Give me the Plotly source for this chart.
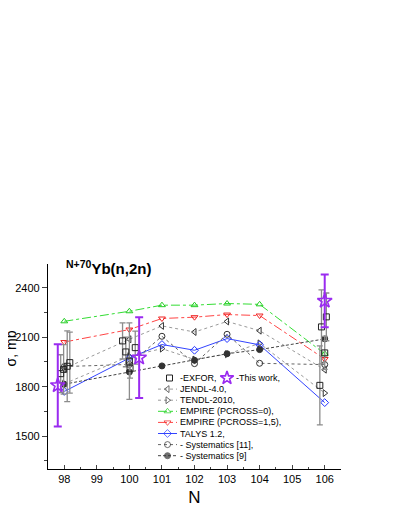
import plotly.graph_objects as go

# calculated / evaluated curves, N = 98..106 (even + 101, 103)
n_calc = [98, 100, 101, 102, 103, 104, 106]
jendl = [1910, 2088, 2169, 2132, 2196, 2140, 1903]
tendl = [1818, 1985, 2031, 1965, 1997, 2063, 1761]
empire0 = [2197, 2258, 2295, 2295, 2305, 2300, 2000]
empire15 = [2071, 2147, 2214, 2222, 2238, 2232, 1968]
talys = [1771, 1974, 2056, 2021, 2092, 2054, 1703]
sys11 = [1922, 1935, 2106, 1940, 2118, 1942, 1934]
sys9 = [1815, 1889, 1926, 1960, 2000, 2025, 2090]

# EXFOR points (slightly shifted in N like the original)
exfor_n = [97.89, 97.98, 98.09, 98.17, 99.79, 99.89, 100.0, 100.02, 100.18,
           105.85, 105.9, 106.0, 106.05]
exfor_sig = [1879, 1905, 1924, 1946, 2078, 2011, 1955, 1912, 2037,
             1808, 2163, 2005, 2224]
exfor_err = [115, 150, 215, 185, 110, 90, 232, 60, 100,
             240, 225, 100, 145]

# this work
tw_n = [97.8, 100.3, 106.0]
tw_sig = [1808, 1976, 2321]
tw_err = [250, 245, 160]

FONT = "Arial, Liberation Sans, sans-serif"
GRAY = "#8c8c8c"
PURPLE = "#9a2bf0"

curves = [
    ("JENDL-4.0,", jendl, "triangle-left-open", "#9a9a9a", "dot", "#333333"),
    ("TENDL-2010,", tendl, "triangle-right-open", "#9a9a9a", "dot", "#333333"),
    ("EMPIRE (PCROSS=0),", empire0, "triangle-up-open", "#33dd33", "dashdot", "#22cc22"),
    ("EMPIRE (PCROSS=1,5),", empire15, "triangle-down-open", "#ff4444", "dashdot", "#ee2222"),
    ("TALYS 1.2,", talys, "diamond-open", "#3344ff", "solid", "#2233ff"),
    ("- Systematics [11],", sys11, "circle-open", "#666666", "dot", "#333333"),
    ("- Systematics [9]", sys9, "circle", "#444444", "3px,2px", "#333333"),
]

fig = go.Figure()

for name, vals, sym, lc, dash, mc in curves:
    fig.add_trace(go.Scatter(x=n_calc, y=vals, mode="lines+markers",
                             line=dict(color=lc, width=1, dash=dash),
                             marker=dict(symbol=sym, size=6, color=mc,
                                         line=dict(color=mc, width=1)),
                             showlegend=False))

fig.add_trace(go.Scatter(x=exfor_n, y=exfor_sig, mode="markers",
                         marker=dict(symbol="square-open", size=6, color="#222222",
                                     line=dict(width=1)),
                         error_y=dict(type="data", array=exfor_err, color=GRAY,
                                      thickness=1.3, width=3),
                         showlegend=False))

fig.add_trace(go.Scatter(x=tw_n, y=tw_sig, mode="markers",
                         marker=dict(symbol="star-open", size=11, color=PURPLE,
                                     line=dict(width=1.6)),
                         error_y=dict(type="data", array=tw_err, color=PURPLE,
                                      thickness=2, width=4),
                         showlegend=False))

# hand-made legend on an overlay axis in pixel units of the plot area
leg_y0, leg_dy = 114, 11.1
sx0, sx1, tx = 110, 129, 130
LEGFONT = dict(size=9, family=FONT)
fig.add_trace(go.Scatter(x=[(sx0 + sx1) / 2 + 2], y=[leg_y0], mode="markers",
                         marker=dict(symbol="square-open", size=6, color="#222222"),
                         xaxis="x2", yaxis="y2", showlegend=False))
fig.add_annotation(x=tx, y=leg_y0, xref="x2", yref="y2", text="-EXFOR,",
                   showarrow=False, xanchor="left", font=LEGFONT)
fig.add_trace(go.Scatter(x=[179], y=[leg_y0], mode="markers",
                         marker=dict(symbol="star-open", size=10, color=PURPLE,
                                     line=dict(width=1.6)),
                         xaxis="x2", yaxis="y2", showlegend=False))
fig.add_annotation(x=186, y=leg_y0, xref="x2", yref="y2", text="-This work,",
                   showarrow=False, xanchor="left", font=LEGFONT)
for i, (name, vals, sym, lc, dash, mc) in enumerate(curves):
    yy = leg_y0 + leg_dy * (i + 1)
    fig.add_trace(go.Scatter(x=[sx0, (sx0 + sx1) / 2, sx1], y=[yy, yy, yy],
                             mode="lines+markers",
                             line=dict(color=lc, width=1, dash=dash),
                             marker=dict(symbol=sym, size=[0, 6, 0], color=mc,
                                         line=dict(color=mc, width=1)),
                             xaxis="x2", yaxis="y2", showlegend=False))
    fig.add_annotation(x=tx, y=yy, xref="x2", yref="y2", text=name,
                       showarrow=False, xanchor="left", font=LEGFONT)

fig.add_annotation(x=0.055, y=0.985, xref="paper", yref="paper",
                   text="<b><sup>N+70</sup>Yb(n,2n)</b>", showarrow=False,
                   xanchor="left", yanchor="middle", font=dict(size=15, family=FONT))
fig.add_annotation(x=-0.125, y=0.59, xref="paper", yref="paper", text="σ, mb",
                   textangle=-90, showarrow=False, xanchor="center", yanchor="middle",
                   font=dict(size=14, family=FONT))

# page body has an 8px margin, so the figure is 8px smaller and margins shifted
fig.update_layout(
    width=387, height=503,
    margin=dict(l=40, r=54, t=256, b=42),
    paper_bgcolor="white", plot_bgcolor="white",
    font=dict(family=FONT, size=11, color="black"),
    xaxis=dict(range=[97.5, 106.5], tickvals=list(range(98, 107)),
               ticks="inside", ticklen=4, tickwidth=1, showline=True,
               linecolor="black", linewidth=1.3, showgrid=False, zeroline=False,
               automargin=False,
               minor=dict(dtick=0.5, tick0=97.5, ticks="inside", ticklen=2),
               title=dict(text="N", font=dict(size=17), standoff=6)),
    yaxis=dict(range=[1300, 2545], tickvals=[1500, 1800, 2100, 2400],
               ticks="outside", ticklen=5, tickwidth=1, showline=True,
               linecolor="black", linewidth=1.3, showgrid=False, zeroline=False,
               automargin=False,
               minor=dict(dtick=150, tick0=1350, ticks="outside", ticklen=3)),
    xaxis2=dict(range=[0, 293], overlaying="x", anchor="y2", visible=False),
    yaxis2=dict(range=[205, 0], overlaying="y", anchor="x2", visible=False),
    showlegend=False,
)

fig.write_html("out.html")
